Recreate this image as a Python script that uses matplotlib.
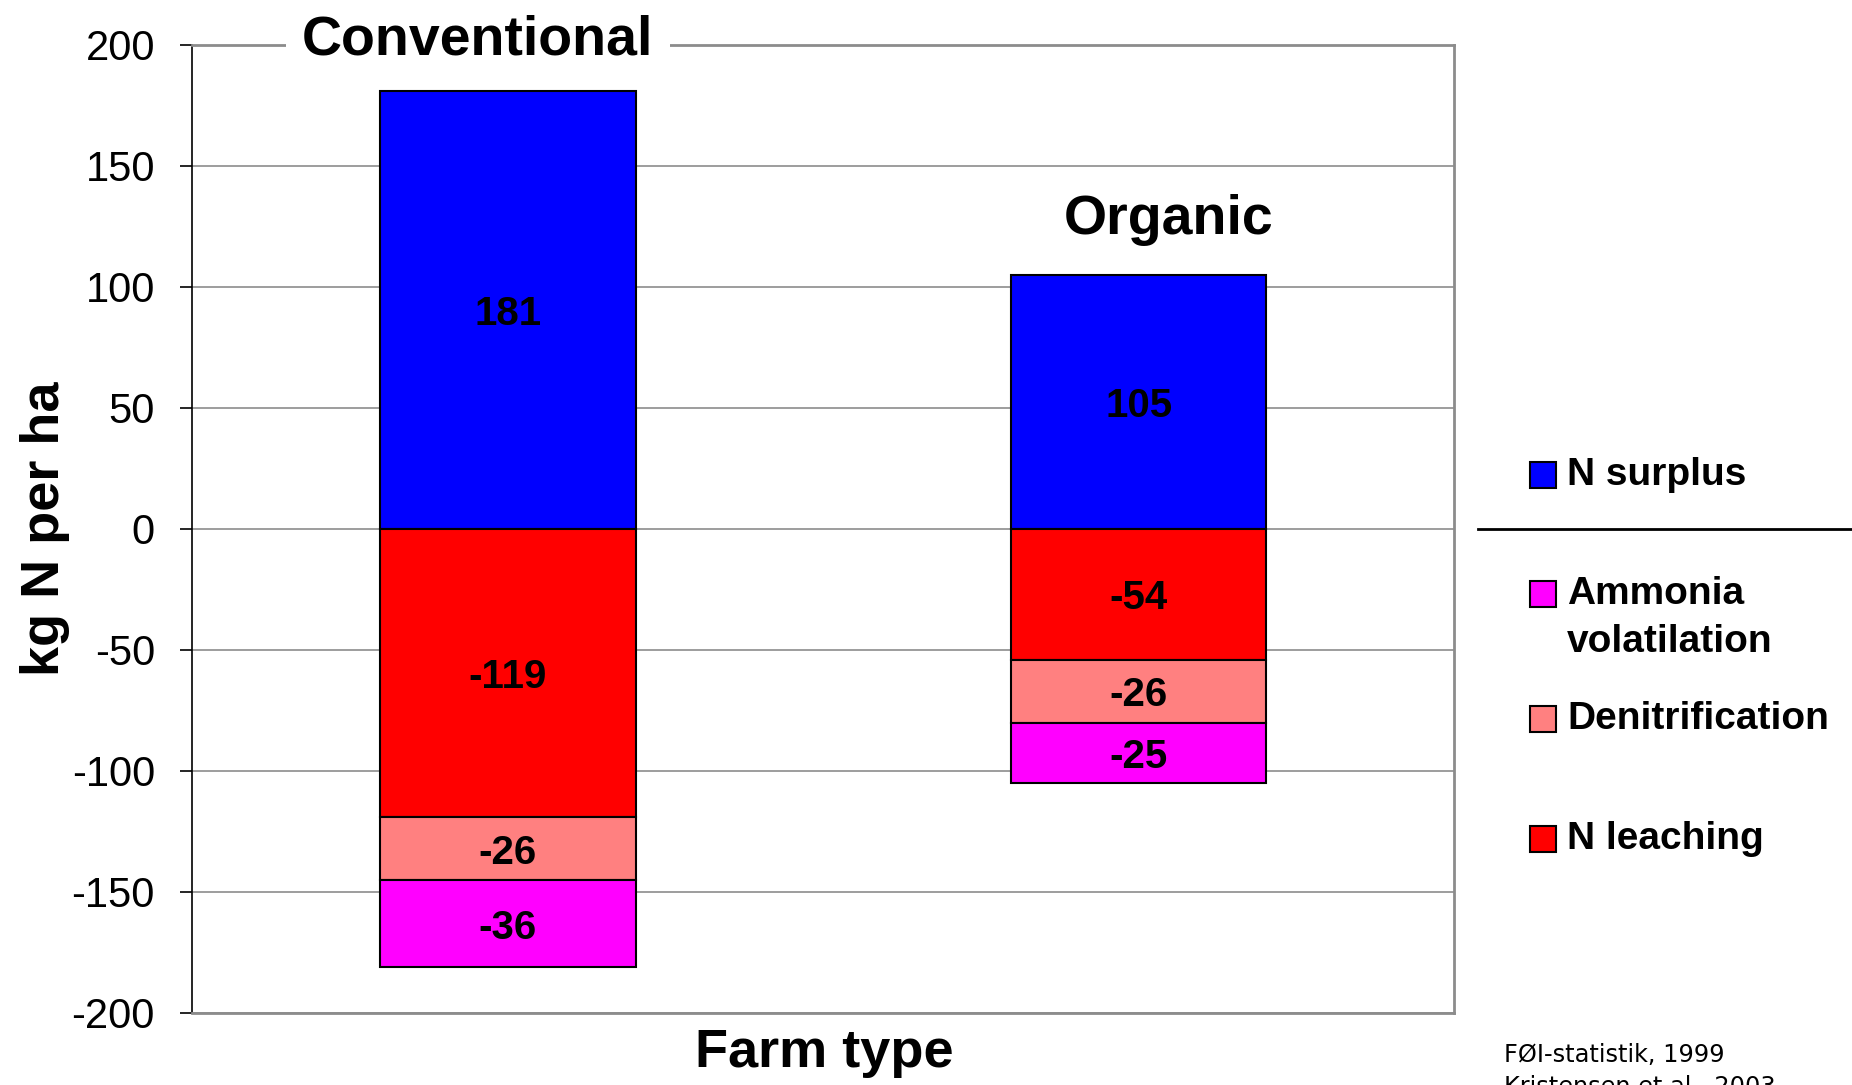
import numpy as np
from matplotlib import pyplot as plt
from matplotlib.patches import Rectangle
from matplotlib.lines import Line2D

FARM_TYPES = ['Conventional', 'Organic']

# kg N per ha, losses are negative
N_SURPLUS = [181, 105]
N_LEACHING = [-119, -54]
DENITRIFICATION = [-26, -26]
AMMONIA = [-36, -25]

Y_TICKS = [-200, -150, -100, -50, 0, 50, 100, 150, 200]

SOURCES = ['FØI-statistik, 1999', 'Kristensen et al., 2003']

BLUE = '#0000FF'
RED = '#FF0000'
SALMON = '#FF8080'
MAGENTA = '#FF00FF'

FONT = 'Liberation Sans'


def plot_balance(filename: str):
    fig = plt.figure(figsize=(18.52, 10.85), dpi=100)
    ax = fig.add_axes([0.1039, 0.0664, 0.6812, 0.8922])

    x = np.arange(len(FARM_TYPES))
    leach = np.array(N_LEACHING)
    denit = np.array(DENITRIFICATION)
    ammon = np.array(AMMONIA)

    bar_kw = dict(width=0.405, edgecolor='black', linewidth=1.5, zorder=3)
    segments = [
        (ax.bar(x, N_SURPLUS, color=BLUE, **bar_kw), N_SURPLUS),
        (ax.bar(x, leach, color=RED, **bar_kw), leach),
        (ax.bar(x, denit, bottom=leach, color=SALMON, **bar_kw), denit),
        (ax.bar(x, ammon, bottom=leach + denit, color=MAGENTA, **bar_kw), ammon),
    ]
    for bars, values in segments:
        labels = ax.bar_label(bars, labels=[f'{v:d}' for v in values], label_type='center',
                              fontsize=29, fontweight='bold', family=FONT)
        for t in labels:
            t.set_y(t.get_position()[1] - 3)

    ax.set_xlim(-0.5, 1.5)
    ax.set_ylim(-200, 200)
    ax.set_yticks(Y_TICKS)
    ax.set_yticklabels([str(t) for t in Y_TICKS], fontsize=30, family=FONT)
    ax.set_xticks([])
    ax.tick_params(axis='y', length=9, width=1.2, pad=18)
    ax.yaxis.grid(True, color='#8c8c8c', linewidth=1.2, zorder=1)
    ax.set_axisbelow(True)

    for side in ['top', 'right', 'bottom']:
        ax.spines[side].set_color('#8c8c8c')
        ax.spines[side].set_linewidth(2)
    ax.spines['left'].set_color('black')
    ax.spines['left'].set_linewidth(1.2)

    ax.set_ylabel('kg N per ha', fontsize=39, fontweight='bold', family=FONT)
    ax.yaxis.set_label_coords(-0.097, 0.5)
    ax.set_xlabel('Farm type', fontsize=39, fontweight='bold', family=FONT)
    ax.xaxis.set_label_coords(0.5006, -0.016)

    # farm type headings above the bars
    ax.text(0.2263, 0.99, FARM_TYPES[0], transform=ax.transAxes, ha='center', va='baseline',
            fontsize=40, fontweight='bold', family=FONT, zorder=10, clip_on=False,
            bbox=dict(boxstyle='square,pad=0.3', facecolor='white', edgecolor='none'))
    ax.text(0.774, 0.805, FARM_TYPES[1], transform=ax.transAxes, ha='center', va='baseline',
            fontsize=40, fontweight='bold', family=FONT)

    # hand-placed legend: gains above the line, losses below
    legend_rows = [
        ('N surplus', BLUE, 475),
        ('Ammonia', MAGENTA, 594),
        ('Denitrification', SALMON, 719),
        ('N leaching', RED, 839),
    ]
    w, h = 26 / 1852, 26 / 1085
    for label, color, ypix in legend_rows:
        yc = 1 - ypix / 1085
        fig.add_artist(Rectangle((1530 / 1852, yc - h / 2), w, h, transform=fig.transFigure,
                                 facecolor=color, edgecolor='black', linewidth=1.5))
        fig.text(1567 / 1852, yc, label, ha='left', va='center',
                 fontsize=28, fontweight='bold', family=FONT)
    fig.text(1567 / 1852, 1 - 642 / 1085, 'volatilation', ha='left', va='center',
             fontsize=28, fontweight='bold', family=FONT)
    fig.add_artist(Line2D([1477.5 / 1852, 1.0], [1 - 529 / 1085] * 2, transform=fig.transFigure,
                          color='black', linewidth=2))

    fig.text(1503.5 / 1852, 1 - 1043 / 1085, '\n'.join(SOURCES), ha='left', va='top',
             fontsize=17.3, family='DejaVu Sans', linespacing=1.4)

    fig.savefig(filename, dpi=100)
    plt.close('all')


if __name__ == '__main__':
    plot_balance('out.png')
